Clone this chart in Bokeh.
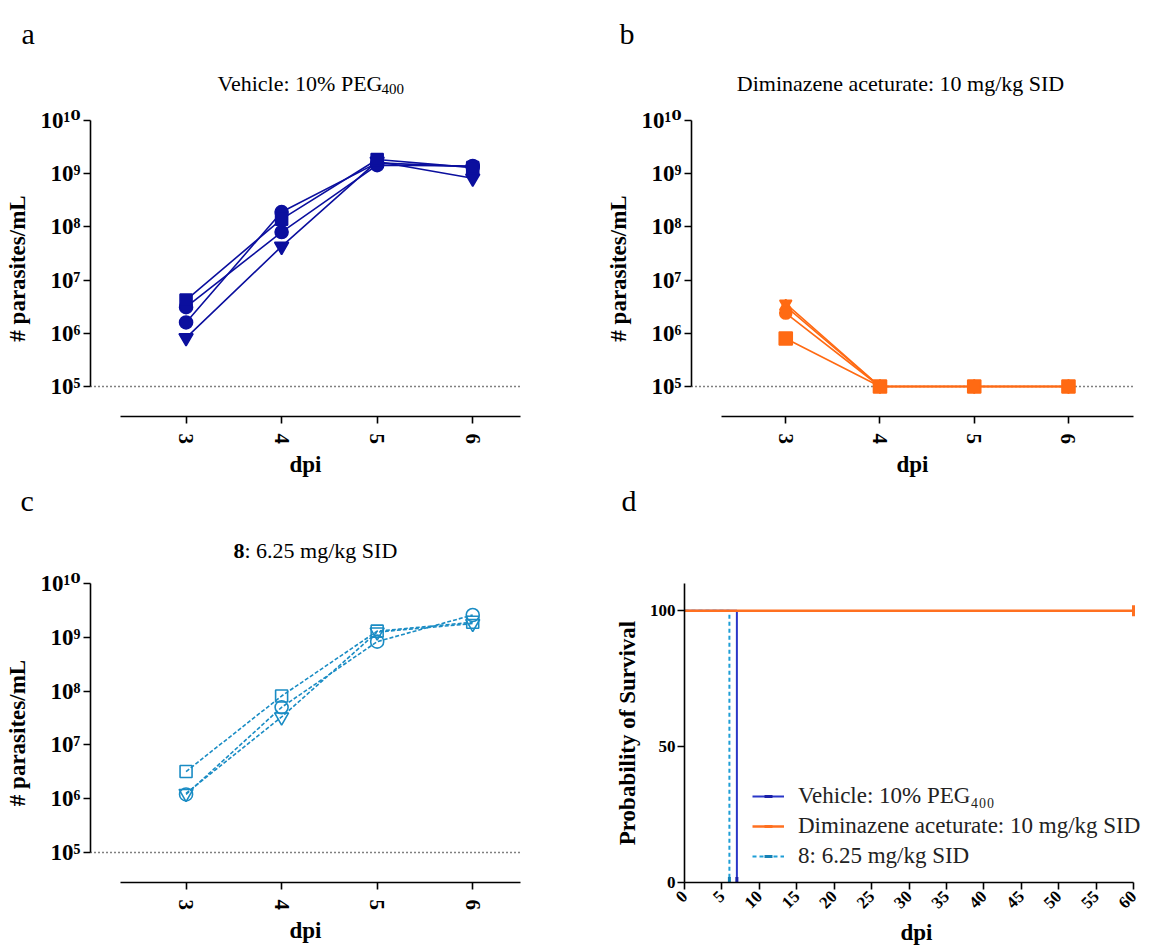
import math
from bokeh.plotting import figure
from bokeh.models import Range1d, FixedTicker, Span, Legend, LegendItem
from bokeh.layouts import column, row
from bokeh.embed import file_html
from bokeh.resources import INLINE
from bokeh.core.properties import value

# ---------------- data ----------------
days = [3, 4, 5, 6]
x_tick_labels = ["3", "4", "5", "6"]
y_ticks = [1e5, 1e6, 1e7, 1e8, 1e9, 1e10]
y_tick_labels = ["10⁵", "10⁶", "10⁷", "10⁸", "10⁹", "10¹⁰"]
detection_limit = 1e5

# a: Vehicle (10% PEG400), four mice
veh_circle_1 = [3.1e6, 8.0e7, 1.45e9, 1.4e9]
veh_circle_2 = [1.6e6, 1.9e8, 1.6e9, 1.35e9]
veh_square = [4.2e6, 1.4e8, 1.85e9, 1.3e9]
veh_tri_down = [8.2e5, 4.3e7, 1.7e9, 8.2e8]

# b: Diminazene aceturate 10 mg/kg SID, four mice
dim_tri_down = [3.6e6, 1e5, 1e5, 1e5]
dim_tri_up = [3.2e6, 1e5, 1e5, 1e5]
dim_circle = [2.4e6, 1e5, 1e5, 1e5]
dim_square = [8.0e5, 1e5, 1e5, 1e5]

# c: compound 8, 6.25 mg/kg SID, three mice
c8_circle = [1.2e6, 5.0e7, 8.3e8, 2.6e9]
c8_square = [3.2e6, 8.1e7, 1.3e9, 1.9e9]
c8_tri_down = [1.25e6, 3.3e7, 1.25e9, 1.8e9]

# d: survival
surv_x_ticks = list(range(0, 61, 5))
surv_y_ticks = [0, 50, 100]
surv_veh_days = [0, 7]
surv_veh = [100, 0]
surv_dim_days = [0, 60]
surv_dim = [100, 100]
surv_c8_days = [0, 6]
surv_c8 = [100, 0]
cens_veh_days, cens_veh = [7], [0]
cens_dim_days, cens_dim = [60], [100]
cens_c8_days, cens_c8 = [6], [0]

panel_letters = ["a", "b", "c", "d"]
title_a = ["Vehicle: 10% PEG", "400"]
title_b = "Diminazene aceturate: 10 mg/kg SID"
title_c = ["8", ": 6.25 mg/kg SID"]
legend_labels = ["Vehicle: 10% PEG₄₀₀", "Diminazene aceturate: 10 mg/kg SID", "8: 6.25 mg/kg SID"]

# ---------------- style ----------------
SERIF = "Liberation Serif"
TICKFONT = "'Liberation Serif', 'DejaVu Serif'"
NAVY = "#0b0f9e"
ORANGE = "#ff6a13"
TEAL = "#1a8cc4"
D_BLUE = "#2a36c8"
D_ORANGE = "#ff7020"
D_CYAN = "#1e9ed6"
TOTAL_W = 1148


def style_axes(p, tick_size, label_size):
    p.grid.visible = False
    p.outline_line_color = None
    for ax in (p.xaxis[0], p.yaxis[0]):
        ax.axis_line_width = 1.6
        ax.axis_line_color = "black"
        ax.major_tick_line_width = 1.6
        ax.major_tick_line_color = "black"
        ax.major_tick_in = 0
        ax.major_tick_out = 7
        ax.minor_tick_line_color = None
        ax.major_label_text_font = TICKFONT
        ax.major_label_text_font_style = "bold"
        ax.major_label_text_color = "black"
        ax.axis_label_text_font = SERIF
        ax.axis_label_text_font_style = "bold"
        ax.axis_label_text_font_size = f"{label_size}px"
        ax.axis_label_text_color = "black"
    p.xaxis.major_label_text_font_size = f"{tick_size}px"
    p.yaxis.major_label_text_font_size = f"{tick_size + 2}px"


def header(height, y_top):
    h = figure(width=TOTAL_W, height=height, x_range=Range1d(0, TOTAL_W),
               y_range=Range1d(y_top + height, y_top), output_backend="svg",
               toolbar_location=None, x_axis_location=None, y_axis_location=None,
               min_border=0)
    h.grid.visible = False
    h.outline_line_color = None
    return h


def htext(h, x, y, text, size, bold=False, align="left"):
    h.text(x=[x], y=[y], text=[text], text_font=value(SERIF), text_font_size=value(f"{size}px"),
           text_font_style="bold" if bold else "normal", text_align=align,
           text_baseline="alphabetic", text_color="black")


def parasite_fig(width, height, left, right, top, bottom, x_end, y_start, x_bound_start):
    p = figure(width=width, height=height, x_range=Range1d(2.0, x_end),
               y_range=Range1d(y_start, 1e10), y_axis_type="log",
               output_backend="svg", toolbar_location=None,
               min_border_left=left, min_border_right=right,
               min_border_top=top, min_border_bottom=bottom)
    style_axes(p, 21, 23)
    p.xaxis.ticker = FixedTicker(ticks=days)
    p.xaxis.major_label_overrides = {d: l for d, l in zip(days, x_tick_labels)}
    p.xaxis.major_label_orientation = -math.pi / 2
    p.xaxis.bounds = (x_bound_start, x_end)
    p.xaxis.axis_label = "dpi"
    p.xaxis.major_label_standoff = 10
    p.xaxis.axis_label_standoff = 5
    p.yaxis.ticker = FixedTicker(ticks=y_ticks)
    p.yaxis.major_label_overrides = {t: l for t, l in zip(y_ticks, y_tick_labels)}
    p.yaxis.bounds = (1e5, 1e10)
    p.yaxis.axis_label = "# parasites/mL"
    p.yaxis.major_label_standoff = 3
    p.yaxis.axis_label_standoff = 8
    p.add_layout(Span(location=detection_limit, dimension="width", line_color="black",
                      line_dash="1 3", line_width=1.3, level="underlay"))
    return p


def mouse(p, ys, marker, color, size, dash="solid", filled=True):
    p.line(days, ys, line_color=color, line_width=1.6, line_dash=dash)
    p.scatter(days, ys, marker=marker, size=size, line_color=color, line_width=1.6,
              fill_color=color if filled else None)


# ---------------- header rows ----------------
h1 = header(100, 0)
htext(h1, 21, 33, panel_letters[0], 30)
htext(h1, 217, 83, title_a[0], 22)
htext(h1, 381, 88, title_a[1], 15)          # subscript right after "PEG"
htext(h1, 619, 33, panel_letters[1], 30)
htext(h1, 900, 83, title_b, 22, align="center")

h2 = header(87, 482)
htext(h2, 20, 500, panel_letters[2], 30)
htext(h2, 244, 550, title_c[0], 22, bold=True, align="right")
htext(h2, 244, 550, title_c[1], 22)
htext(h2, 621, 500, panel_letters[3], 30)

# ---------------- panel a ----------------
pa = parasite_fig(602, 382, 90, 82, 20, 66, 6.5, 10 ** 4.436, 2.31)
mouse(pa, veh_tri_down, "inverted_triangle", NAVY, 14)
mouse(pa, veh_circle_2, "circle", NAVY, 13)
mouse(pa, veh_circle_1, "circle", NAVY, 13)
mouse(pa, veh_square, "square", NAVY, 12)

# ---------------- panel b ----------------
pb = parasite_fig(TOTAL_W - 602, 382, 82, TOTAL_W - 602 - 82 - 449, 20, 66, 6.69, 10 ** 4.436, 2.32)
mouse(pb, dim_tri_up, "triangle", ORANGE, 12)
mouse(pb, dim_tri_down, "inverted_triangle", ORANGE, 12)
mouse(pb, dim_circle, "circle", ORANGE, 12)
mouse(pb, dim_square, "square", ORANGE, 13)

# ---------------- panel c ----------------
pc = parasite_fig(602, 381, 90, 82, 14, 68, 6.5, 10 ** 4.442, 2.31)
mouse(pc, c8_tri_down, "inverted_triangle", TEAL, 14, dash="4 2", filled=False)
mouse(pc, c8_circle, "circle", TEAL, 13, dash="4 2", filled=False)
mouse(pc, c8_square, "square", TEAL, 12, dash="4 2", filled=False)

# ---------------- panel d ----------------
D_FRAME_W = TOTAL_W - 602 - 82          # frame runs past day 60 so the legend is not cut
D_X_END = 60 * D_FRAME_W / 449          # day 60 sits 449 px right of the y axis
pd_ = figure(width=TOTAL_W - 602, height=381, x_range=Range1d(0, D_X_END), y_range=Range1d(0, 110),
             output_backend="svg", toolbar_location=None,
             min_border_left=82, min_border_right=0,
             min_border_top=14, min_border_bottom=68)
style_axes(pd_, 17, 23)
pd_.yaxis.major_label_text_font_size = "17px"
pd_.xaxis.ticker = FixedTicker(ticks=surv_x_ticks)
pd_.xaxis.bounds = (0, 60)
pd_.xaxis.major_label_orientation = math.pi / 4
pd_.xaxis.axis_label = "dpi"
pd_.xaxis.major_label_standoff = 4
pd_.xaxis.axis_label_standoff = 4
pd_.yaxis.ticker = FixedTicker(ticks=surv_y_ticks)
pd_.yaxis.axis_label = "Probability of Survival"
pd_.yaxis.major_label_standoff = 2
pd_.yaxis.axis_label_standoff = 7

r8 = pd_.step(surv_c8_days, surv_c8, mode="after", line_color=D_CYAN, line_width=2, line_dash="4 3")
c8m = pd_.scatter(cens_c8_days, cens_c8, marker="dash", angle=math.pi / 2, size=11,
                  line_color="#1581b5", line_width=3)
rv = pd_.step(surv_veh_days, surv_veh, mode="after", line_color=D_BLUE, line_width=2)
vm = pd_.scatter(cens_veh_days, cens_veh, marker="dash", angle=math.pi / 2, size=11,
                 line_color="#1a1fa8", line_width=3)
rd = pd_.step(surv_dim_days, surv_dim, mode="after", line_color=D_ORANGE, line_width=2.6)
dm = pd_.scatter(cens_dim_days, cens_dim, marker="dash", angle=math.pi / 2, size=11,
                 line_color=D_ORANGE, line_width=3)

legend = Legend(items=[LegendItem(label=legend_labels[0], renderers=[rv, vm]),
                       LegendItem(label=legend_labels[1], renderers=[rd, dm]),
                       LegendItem(label=legend_labels[2], renderers=[r8, c8m])],
                location=(68, 13), orientation="vertical",
                label_text_font=SERIF, label_text_font_size="23px",
                label_text_color="#222222",
                background_fill_alpha=0, border_line_alpha=0,
                glyph_width=32, glyph_height=20, label_height=20, label_standoff=14,
                spacing=4, padding=0, margin=0)
pd_.add_layout(legend)

layout = column(h1, row(pa, pb), h2, row(pc, pd_))
open("out.html", "w").write(file_html(layout, INLINE))
